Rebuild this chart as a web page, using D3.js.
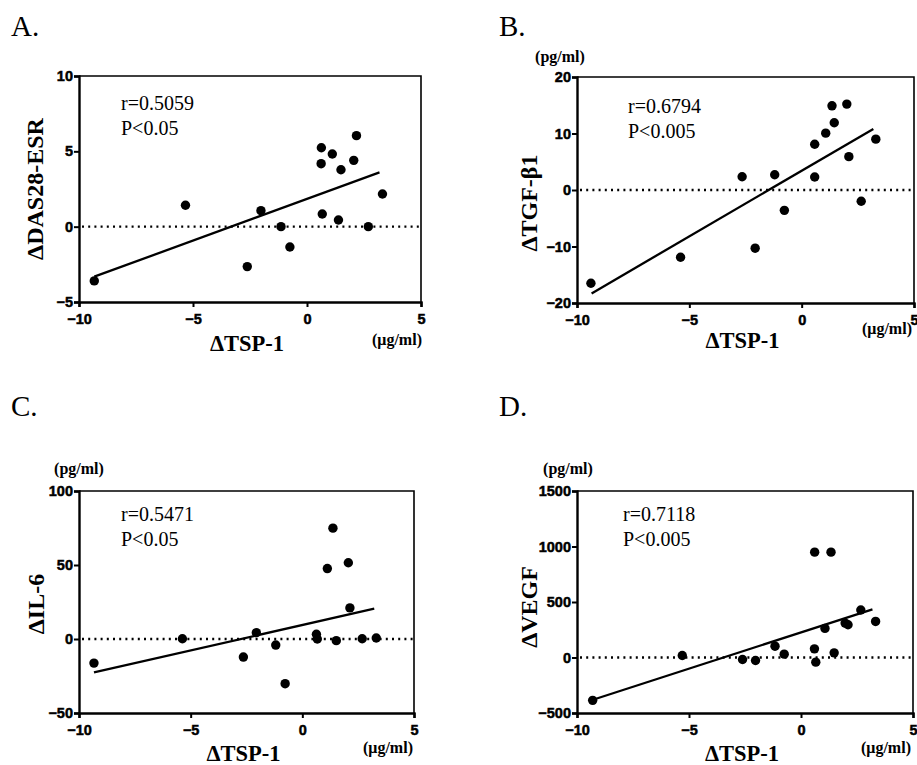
<!DOCTYPE html>
<html><head><meta charset="utf-8">
<script src="https://cdn.jsdelivr.net/npm/d3@7/dist/d3.min.js"></script>
<style>body{margin:0;background:#fff}svg{display:block}</style>
</head><body><svg id="c" width="917" height="765"></svg>
<script>
// ---- data ----
const xTicks = [-10, -5, 0, 5];
const tspA = [-9.33,-5.33,-2.62,-2.02,-1.14,-0.75,0.63,0.62,0.67,1.11,1.49,1.38,2.05,2.17,2.69,3.31];
const dasA = [-3.6,1.42,-2.65,1.06,0,-1.35,5.24,4.18,0.84,4.82,3.78,0.44,4.4,6.04,0,2.17];
const fitXA = [-9.33, 3.18], fitYA = [-3.32, 3.6];
const yTicksA = [-5, 0, 5, 10];

const tspB = [-9.38,-5.39,-2.65,-2.07,-1.2,-0.77,0.58,0.58,1.07,1.35,1.45,2.01,2.1,2.65,3.3];
const tgfB = [-16.5,-11.9,2.35,-10.3,2.7,-3.6,8.1,2.3,10.06,14.9,11.9,15.2,5.9,-2.0,9.0];
const fitXB = [-9.35, 3.19], fitYB = [-18.3, 10.8];
const yTicksB = [-20, -10, 0, 10, 20];

const tspC = [-9.33,-5.37,-2.64,-2.06,-1.19,-0.77,0.63,0.67,1.12,1.37,1.52,2.06,2.13,2.68,3.31];
const il6C = [-16.3,0.2,-12.2,4.3,-4.1,-30.2,3.2,0,47.6,74.9,-1.1,51.5,21,0.2,0.7];
const fitXC = [-9.33, 3.22], fitYC = [-22.6, 20.5];
const yTicksC = [-50, 0, 50, 100];

const tspD = [-9.3,-5.3,-2.61,-2.03,-1.16,-0.75,0.61,0.6,0.66,1.07,1.34,1.48,1.97,2.1,2.67,3.33];
const vegfD = [-386,18,-18,-27,102,30,949,78,-42,262,949,42,310,295,428,325];
const fitXD = [-9.22, 3.19], fitYD = [-376, 434];
const yTicksD = [-500, 0, 500, 1000, 1500];

const panelLetters = ["A.", "B.", "C.", "D."];
const yLabels = ["ΔDAS28-ESR", "ΔTGF-β1", "ΔIL-6", "ΔVEGF"];
const rTexts = ["r=0.5059", "r=0.6794", "r=0.5471", "r=0.7118"];
const pTexts = ["P<0.05", "P<0.005", "P<0.05", "P<0.005"];
const yUnits = [null, "(pg/ml)", "(pg/ml)", "(pg/ml)"];
const xLabel = "ΔTSP-1";
const xUnit = "(μg/ml)";

// ---- layout ----
const panels = [
  {xs: tspA, ys: dasA, fx: fitXA, fy: fitYA, yt: yTicksA, box: [79, 421, 76, 302], letter: [11, 36], ylab: [35, 189], txt: [121, 110], xlabY: 351, unit: [397, 345]},
  {xs: tspB, ys: tgfB, fx: fitXB, fy: fitYB, yt: yTicksB, box: [577, 914, 77, 303], letter: [499, 36], ylab: [529, 203], txt: [628, 113], xlabY: 348, unit: [887, 334], yunit: [560, 62]},
  {xs: tspC, ys: il6C, fx: fitXC, fy: fitYC, yt: yTicksC, box: [79, 414, 491, 713], letter: [11, 416], ylab: [36, 604], txt: [121, 521], xlabY: 761, unit: [388, 753], yunit: [79, 474]},
  {xs: tspD, ys: vegfD, fx: fitXD, fy: fitYD, yt: yTicksD, box: [577, 913, 491, 713], letter: [499, 416], ylab: [529, 607], txt: [623, 521], xlabY: 761, unit: [886, 753], yunit: [568, 474]}
];

const svg = d3.select("#c");
const serif = "'Liberation Serif','Times New Roman',serif";
const sans = "'Liberation Sans',Arial,sans-serif";

panels.forEach((p, i) => {
  const [l, r, t, b] = p.box;
  const x = d3.scaleLinear().domain([-10, 5]).range([l, r]);
  const y = d3.scaleLinear().domain([p.yt[0], p.yt[p.yt.length - 1]]).range([b, t]);
  const g = svg.append("g");

  g.append("text").attr("x", p.letter[0]).attr("y", p.letter[1])
    .attr("font-family", serif).attr("font-size", 29).text(panelLetters[i]);

  g.append("path").attr("d", `M${l},${t}H${r}V${b}`).attr("fill", "none")
    .attr("stroke", "#000").attr("stroke-width", 1.6);

  const xa = g.append("g").attr("transform", `translate(0,${b})`)
    .call(d3.axisBottom(x).tickValues(xTicks).tickSize(5).tickPadding(4).tickFormat(d3.format("d")));
  const ya = g.append("g").attr("transform", `translate(${l},0)`)
    .call(d3.axisLeft(y).tickValues(p.yt).tickSize(5).tickPadding(1).tickFormat(d3.format("d")));
  [xa, ya].forEach(a => {
    a.select(".domain").attr("stroke-width", 2.4);
    a.selectAll(".tick line").attr("stroke-width", 2);
    a.selectAll("text").attr("font-family", sans).attr("font-weight", "bold")
      .attr("font-size", 14.5).attr("fill", "#000").attr("stroke", "#000").attr("stroke-width", 0.5);
  });
  xa.selectAll("text").attr("dy", "0.9em");

  g.append("line").attr("x1", l + 3).attr("x2", r).attr("y1", y(0)).attr("y2", y(0))
    .attr("stroke", "#000").attr("stroke-width", 2.4).attr("stroke-dasharray", "2,4.2");

  g.append("line").attr("x1", x(p.fx[0])).attr("y1", y(p.fy[0]))
    .attr("x2", x(p.fx[1])).attr("y2", y(p.fy[1]))
    .attr("stroke", "#000").attr("stroke-width", 2.3);

  g.selectAll("circle.pt").data(p.xs.map((v, k) => [v, p.ys[k]])).enter()
    .append("circle").attr("class", "pt")
    .attr("cx", d => x(d[0])).attr("cy", d => y(d[1])).attr("r", 4.7).attr("fill", "#000");

  g.append("text").attr("x", p.txt[0]).attr("y", p.txt[1]).attr("font-family", serif)
    .attr("font-size", 20).text(rTexts[i]);
  g.append("text").attr("x", p.txt[0]).attr("y", p.txt[1] + 25).attr("font-family", serif)
    .attr("font-size", 20).text(pTexts[i]);

  g.append("text").attr("transform", `translate(${p.ylab[0]},${p.ylab[1]}) rotate(-90)`)
    .attr("text-anchor", "middle").attr("dy", "0.35em")
    .attr("font-family", serif).attr("font-weight", "bold").attr("font-size", 24).text(yLabels[i]);

  g.append("text").attr("x", (l + r) / 2 - 3).attr("y", p.xlabY).attr("text-anchor", "middle")
    .attr("font-family", serif).attr("font-weight", "bold").attr("font-size", 22.5).text(xLabel);

  g.append("text").attr("x", p.unit[0]).attr("y", p.unit[1]).attr("text-anchor", "middle")
    .attr("font-family", serif).attr("font-weight", "bold").attr("font-size", 16).text(xUnit);
  if (yUnits[i]) {
    g.append("text").attr("x", p.yunit[0]).attr("y", p.yunit[1]).attr("text-anchor", "middle")
      .attr("font-family", serif).attr("font-weight", "bold").attr("font-size", 16).text(yUnits[i]);
  }
});
</script></body></html>
